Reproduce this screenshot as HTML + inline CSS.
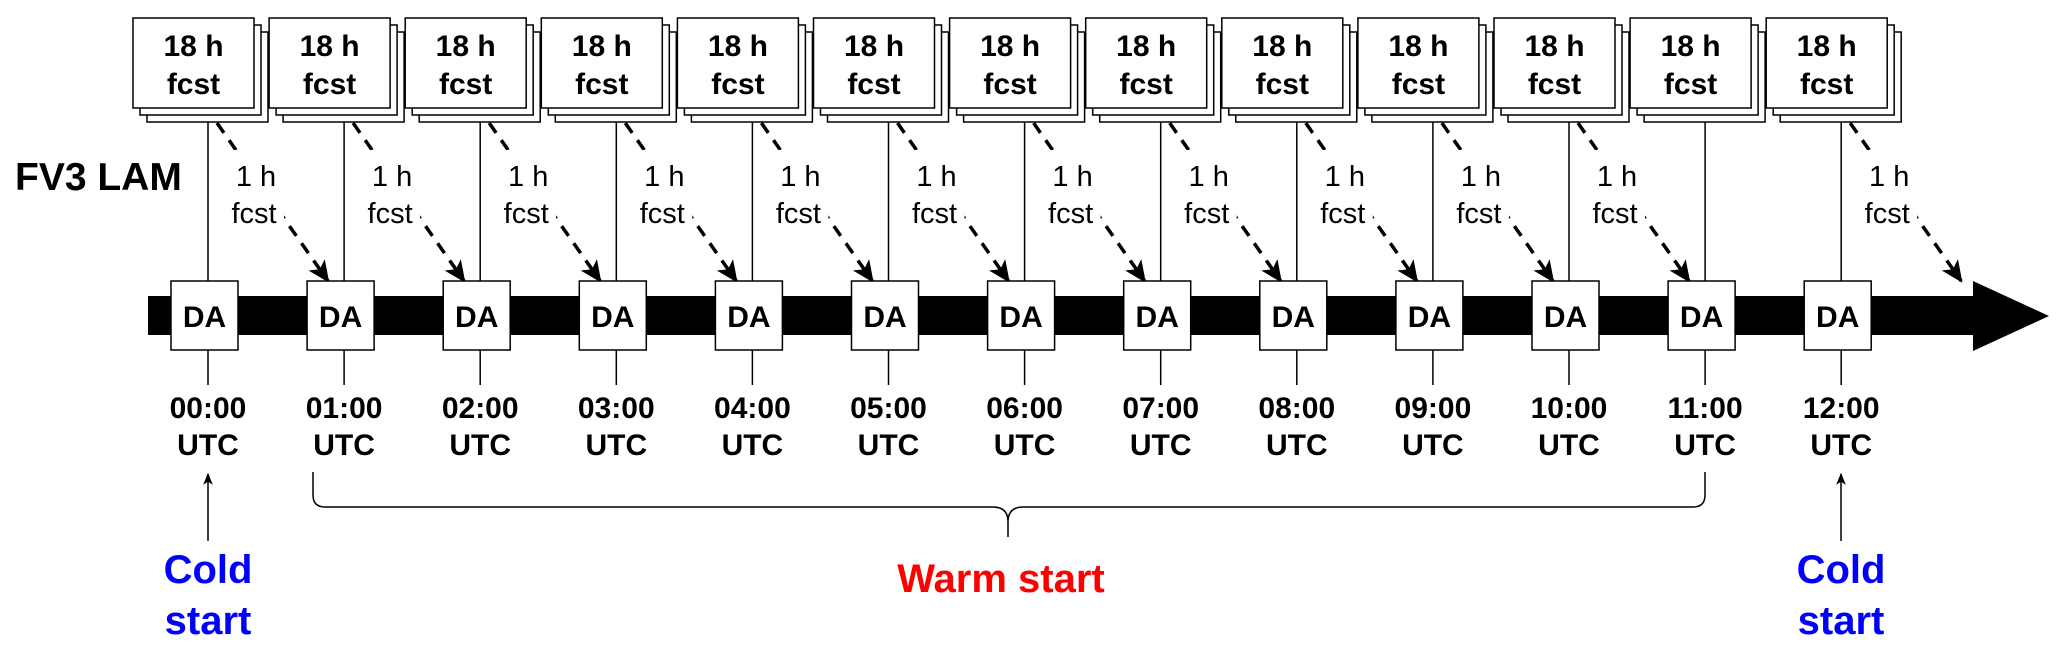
<!DOCTYPE html>
<html><head><meta charset="utf-8"><style>
html,body{margin:0;padding:0;background:#fff}
svg{display:block}
text{font-family:"Liberation Sans",Arial,sans-serif}
.b{font-weight:bold}
</style></head><body>
<svg width="2067" height="652" viewBox="0 0 2067 652" xmlns="http://www.w3.org/2000/svg">
<defs>
<marker id="ah" viewBox="0 0 20 20" refX="18" refY="10" markerWidth="22" markerHeight="22" markerUnits="userSpaceOnUse" orient="auto">
<path d="M0,1 L20,10 L0,19 L5,10 Z" fill="#000"/>
</marker>
<marker id="ah2" viewBox="0 0 20 20" refX="18" refY="10" markerWidth="12" markerHeight="12" markerUnits="userSpaceOnUse" orient="auto">
<path d="M0,2 L20,10 L0,18 L5,10 Z" fill="#000"/>
</marker>
</defs>
<rect x="148" y="296" width="1826" height="39" fill="#000"/>
<polygon points="1973,281 2049,316 1973,351" fill="#000"/>
<text x="15" y="190" class="b" font-size="39" fill="#000">FV3 LAM</text>

<g>
<line x1="208" y1="122" x2="208" y2="281" stroke="#000" stroke-width="1.5"/>
<rect x="147" y="32" width="121" height="90" fill="#fff" stroke="#000" stroke-width="1.5"/>
<rect x="140" y="25" width="121" height="90" fill="#fff" stroke="#000" stroke-width="1.5"/>
<rect x="133" y="18" width="121" height="90" fill="#fff" stroke="#000" stroke-width="1.5"/>
<text x="193.5" y="56" text-anchor="middle" class="b" font-size="30">18 h</text>
<text x="193.5" y="94" text-anchor="middle" class="b" font-size="30">fcst</text>
<rect x="171" y="281" width="67" height="69" fill="#fff" stroke="#000" stroke-width="1.5"/>
<text x="204.5" y="327" text-anchor="middle" class="b" font-size="30">DA</text>
<line x1="208" y1="350" x2="208" y2="385" stroke="#000" stroke-width="1.5"/>
<text x="208" y="418" text-anchor="middle" class="b" font-size="30">00:00</text>
<text x="208" y="455" text-anchor="middle" class="b" font-size="30">UTC</text>
<line x1="217" y1="123" x2="328" y2="281" stroke="#000" stroke-width="3.5" stroke-dasharray="12 9" marker-end="url(#ah)"/>
<rect x="228" y="150" width="56" height="80" fill="#fff"/>
<text x="256" y="186" text-anchor="middle" font-size="29">1 h</text>
<text x="254" y="223" text-anchor="middle" font-size="29">fcst</text>
</g>

<g transform="translate(136.1,0)"><line x1="208" y1="122" x2="208" y2="281" stroke="#000" stroke-width="1.5"/><rect x="147" y="32" width="121" height="90" fill="#fff" stroke="#000" stroke-width="1.5"/><rect x="140" y="25" width="121" height="90" fill="#fff" stroke="#000" stroke-width="1.5"/><rect x="133" y="18" width="121" height="90" fill="#fff" stroke="#000" stroke-width="1.5"/><text x="193.5" y="56" text-anchor="middle" class="b" font-size="30">18 h</text><text x="193.5" y="94" text-anchor="middle" class="b" font-size="30">fcst</text><rect x="171" y="281" width="67" height="69" fill="#fff" stroke="#000" stroke-width="1.5"/><text x="204.5" y="327" text-anchor="middle" class="b" font-size="30">DA</text><line x1="208" y1="350" x2="208" y2="385" stroke="#000" stroke-width="1.5"/><text x="208" y="418" text-anchor="middle" class="b" font-size="30">01:00</text><text x="208" y="455" text-anchor="middle" class="b" font-size="30">UTC</text><line x1="217" y1="123" x2="328" y2="281" stroke="#000" stroke-width="3.5" stroke-dasharray="12 9" marker-end="url(#ah)"/><rect x="228" y="150" width="56" height="80" fill="#fff"/><text x="256" y="186" text-anchor="middle" font-size="29">1 h</text><text x="254" y="223" text-anchor="middle" font-size="29">fcst</text></g>
<g transform="translate(272.2,0)"><line x1="208" y1="122" x2="208" y2="281" stroke="#000" stroke-width="1.5"/><rect x="147" y="32" width="121" height="90" fill="#fff" stroke="#000" stroke-width="1.5"/><rect x="140" y="25" width="121" height="90" fill="#fff" stroke="#000" stroke-width="1.5"/><rect x="133" y="18" width="121" height="90" fill="#fff" stroke="#000" stroke-width="1.5"/><text x="193.5" y="56" text-anchor="middle" class="b" font-size="30">18 h</text><text x="193.5" y="94" text-anchor="middle" class="b" font-size="30">fcst</text><rect x="171" y="281" width="67" height="69" fill="#fff" stroke="#000" stroke-width="1.5"/><text x="204.5" y="327" text-anchor="middle" class="b" font-size="30">DA</text><line x1="208" y1="350" x2="208" y2="385" stroke="#000" stroke-width="1.5"/><text x="208" y="418" text-anchor="middle" class="b" font-size="30">02:00</text><text x="208" y="455" text-anchor="middle" class="b" font-size="30">UTC</text><line x1="217" y1="123" x2="328" y2="281" stroke="#000" stroke-width="3.5" stroke-dasharray="12 9" marker-end="url(#ah)"/><rect x="228" y="150" width="56" height="80" fill="#fff"/><text x="256" y="186" text-anchor="middle" font-size="29">1 h</text><text x="254" y="223" text-anchor="middle" font-size="29">fcst</text></g>
<g transform="translate(408.3,0)"><line x1="208" y1="122" x2="208" y2="281" stroke="#000" stroke-width="1.5"/><rect x="147" y="32" width="121" height="90" fill="#fff" stroke="#000" stroke-width="1.5"/><rect x="140" y="25" width="121" height="90" fill="#fff" stroke="#000" stroke-width="1.5"/><rect x="133" y="18" width="121" height="90" fill="#fff" stroke="#000" stroke-width="1.5"/><text x="193.5" y="56" text-anchor="middle" class="b" font-size="30">18 h</text><text x="193.5" y="94" text-anchor="middle" class="b" font-size="30">fcst</text><rect x="171" y="281" width="67" height="69" fill="#fff" stroke="#000" stroke-width="1.5"/><text x="204.5" y="327" text-anchor="middle" class="b" font-size="30">DA</text><line x1="208" y1="350" x2="208" y2="385" stroke="#000" stroke-width="1.5"/><text x="208" y="418" text-anchor="middle" class="b" font-size="30">03:00</text><text x="208" y="455" text-anchor="middle" class="b" font-size="30">UTC</text><line x1="217" y1="123" x2="328" y2="281" stroke="#000" stroke-width="3.5" stroke-dasharray="12 9" marker-end="url(#ah)"/><rect x="228" y="150" width="56" height="80" fill="#fff"/><text x="256" y="186" text-anchor="middle" font-size="29">1 h</text><text x="254" y="223" text-anchor="middle" font-size="29">fcst</text></g>
<g transform="translate(544.4,0)"><line x1="208" y1="122" x2="208" y2="281" stroke="#000" stroke-width="1.5"/><rect x="147" y="32" width="121" height="90" fill="#fff" stroke="#000" stroke-width="1.5"/><rect x="140" y="25" width="121" height="90" fill="#fff" stroke="#000" stroke-width="1.5"/><rect x="133" y="18" width="121" height="90" fill="#fff" stroke="#000" stroke-width="1.5"/><text x="193.5" y="56" text-anchor="middle" class="b" font-size="30">18 h</text><text x="193.5" y="94" text-anchor="middle" class="b" font-size="30">fcst</text><rect x="171" y="281" width="67" height="69" fill="#fff" stroke="#000" stroke-width="1.5"/><text x="204.5" y="327" text-anchor="middle" class="b" font-size="30">DA</text><line x1="208" y1="350" x2="208" y2="385" stroke="#000" stroke-width="1.5"/><text x="208" y="418" text-anchor="middle" class="b" font-size="30">04:00</text><text x="208" y="455" text-anchor="middle" class="b" font-size="30">UTC</text><line x1="217" y1="123" x2="328" y2="281" stroke="#000" stroke-width="3.5" stroke-dasharray="12 9" marker-end="url(#ah)"/><rect x="228" y="150" width="56" height="80" fill="#fff"/><text x="256" y="186" text-anchor="middle" font-size="29">1 h</text><text x="254" y="223" text-anchor="middle" font-size="29">fcst</text></g>
<g transform="translate(680.5,0)"><line x1="208" y1="122" x2="208" y2="281" stroke="#000" stroke-width="1.5"/><rect x="147" y="32" width="121" height="90" fill="#fff" stroke="#000" stroke-width="1.5"/><rect x="140" y="25" width="121" height="90" fill="#fff" stroke="#000" stroke-width="1.5"/><rect x="133" y="18" width="121" height="90" fill="#fff" stroke="#000" stroke-width="1.5"/><text x="193.5" y="56" text-anchor="middle" class="b" font-size="30">18 h</text><text x="193.5" y="94" text-anchor="middle" class="b" font-size="30">fcst</text><rect x="171" y="281" width="67" height="69" fill="#fff" stroke="#000" stroke-width="1.5"/><text x="204.5" y="327" text-anchor="middle" class="b" font-size="30">DA</text><line x1="208" y1="350" x2="208" y2="385" stroke="#000" stroke-width="1.5"/><text x="208" y="418" text-anchor="middle" class="b" font-size="30">05:00</text><text x="208" y="455" text-anchor="middle" class="b" font-size="30">UTC</text><line x1="217" y1="123" x2="328" y2="281" stroke="#000" stroke-width="3.5" stroke-dasharray="12 9" marker-end="url(#ah)"/><rect x="228" y="150" width="56" height="80" fill="#fff"/><text x="256" y="186" text-anchor="middle" font-size="29">1 h</text><text x="254" y="223" text-anchor="middle" font-size="29">fcst</text></g>
<g transform="translate(816.6,0)"><line x1="208" y1="122" x2="208" y2="281" stroke="#000" stroke-width="1.5"/><rect x="147" y="32" width="121" height="90" fill="#fff" stroke="#000" stroke-width="1.5"/><rect x="140" y="25" width="121" height="90" fill="#fff" stroke="#000" stroke-width="1.5"/><rect x="133" y="18" width="121" height="90" fill="#fff" stroke="#000" stroke-width="1.5"/><text x="193.5" y="56" text-anchor="middle" class="b" font-size="30">18 h</text><text x="193.5" y="94" text-anchor="middle" class="b" font-size="30">fcst</text><rect x="171" y="281" width="67" height="69" fill="#fff" stroke="#000" stroke-width="1.5"/><text x="204.5" y="327" text-anchor="middle" class="b" font-size="30">DA</text><line x1="208" y1="350" x2="208" y2="385" stroke="#000" stroke-width="1.5"/><text x="208" y="418" text-anchor="middle" class="b" font-size="30">06:00</text><text x="208" y="455" text-anchor="middle" class="b" font-size="30">UTC</text><line x1="217" y1="123" x2="328" y2="281" stroke="#000" stroke-width="3.5" stroke-dasharray="12 9" marker-end="url(#ah)"/><rect x="228" y="150" width="56" height="80" fill="#fff"/><text x="256" y="186" text-anchor="middle" font-size="29">1 h</text><text x="254" y="223" text-anchor="middle" font-size="29">fcst</text></g>
<g transform="translate(952.7,0)"><line x1="208" y1="122" x2="208" y2="281" stroke="#000" stroke-width="1.5"/><rect x="147" y="32" width="121" height="90" fill="#fff" stroke="#000" stroke-width="1.5"/><rect x="140" y="25" width="121" height="90" fill="#fff" stroke="#000" stroke-width="1.5"/><rect x="133" y="18" width="121" height="90" fill="#fff" stroke="#000" stroke-width="1.5"/><text x="193.5" y="56" text-anchor="middle" class="b" font-size="30">18 h</text><text x="193.5" y="94" text-anchor="middle" class="b" font-size="30">fcst</text><rect x="171" y="281" width="67" height="69" fill="#fff" stroke="#000" stroke-width="1.5"/><text x="204.5" y="327" text-anchor="middle" class="b" font-size="30">DA</text><line x1="208" y1="350" x2="208" y2="385" stroke="#000" stroke-width="1.5"/><text x="208" y="418" text-anchor="middle" class="b" font-size="30">07:00</text><text x="208" y="455" text-anchor="middle" class="b" font-size="30">UTC</text><line x1="217" y1="123" x2="328" y2="281" stroke="#000" stroke-width="3.5" stroke-dasharray="12 9" marker-end="url(#ah)"/><rect x="228" y="150" width="56" height="80" fill="#fff"/><text x="256" y="186" text-anchor="middle" font-size="29">1 h</text><text x="254" y="223" text-anchor="middle" font-size="29">fcst</text></g>
<g transform="translate(1088.8,0)"><line x1="208" y1="122" x2="208" y2="281" stroke="#000" stroke-width="1.5"/><rect x="147" y="32" width="121" height="90" fill="#fff" stroke="#000" stroke-width="1.5"/><rect x="140" y="25" width="121" height="90" fill="#fff" stroke="#000" stroke-width="1.5"/><rect x="133" y="18" width="121" height="90" fill="#fff" stroke="#000" stroke-width="1.5"/><text x="193.5" y="56" text-anchor="middle" class="b" font-size="30">18 h</text><text x="193.5" y="94" text-anchor="middle" class="b" font-size="30">fcst</text><rect x="171" y="281" width="67" height="69" fill="#fff" stroke="#000" stroke-width="1.5"/><text x="204.5" y="327" text-anchor="middle" class="b" font-size="30">DA</text><line x1="208" y1="350" x2="208" y2="385" stroke="#000" stroke-width="1.5"/><text x="208" y="418" text-anchor="middle" class="b" font-size="30">08:00</text><text x="208" y="455" text-anchor="middle" class="b" font-size="30">UTC</text><line x1="217" y1="123" x2="328" y2="281" stroke="#000" stroke-width="3.5" stroke-dasharray="12 9" marker-end="url(#ah)"/><rect x="228" y="150" width="56" height="80" fill="#fff"/><text x="256" y="186" text-anchor="middle" font-size="29">1 h</text><text x="254" y="223" text-anchor="middle" font-size="29">fcst</text></g>
<g transform="translate(1224.9,0)"><line x1="208" y1="122" x2="208" y2="281" stroke="#000" stroke-width="1.5"/><rect x="147" y="32" width="121" height="90" fill="#fff" stroke="#000" stroke-width="1.5"/><rect x="140" y="25" width="121" height="90" fill="#fff" stroke="#000" stroke-width="1.5"/><rect x="133" y="18" width="121" height="90" fill="#fff" stroke="#000" stroke-width="1.5"/><text x="193.5" y="56" text-anchor="middle" class="b" font-size="30">18 h</text><text x="193.5" y="94" text-anchor="middle" class="b" font-size="30">fcst</text><rect x="171" y="281" width="67" height="69" fill="#fff" stroke="#000" stroke-width="1.5"/><text x="204.5" y="327" text-anchor="middle" class="b" font-size="30">DA</text><line x1="208" y1="350" x2="208" y2="385" stroke="#000" stroke-width="1.5"/><text x="208" y="418" text-anchor="middle" class="b" font-size="30">09:00</text><text x="208" y="455" text-anchor="middle" class="b" font-size="30">UTC</text><line x1="217" y1="123" x2="328" y2="281" stroke="#000" stroke-width="3.5" stroke-dasharray="12 9" marker-end="url(#ah)"/><rect x="228" y="150" width="56" height="80" fill="#fff"/><text x="256" y="186" text-anchor="middle" font-size="29">1 h</text><text x="254" y="223" text-anchor="middle" font-size="29">fcst</text></g>
<g transform="translate(1361,0)"><line x1="208" y1="122" x2="208" y2="281" stroke="#000" stroke-width="1.5"/><rect x="147" y="32" width="121" height="90" fill="#fff" stroke="#000" stroke-width="1.5"/><rect x="140" y="25" width="121" height="90" fill="#fff" stroke="#000" stroke-width="1.5"/><rect x="133" y="18" width="121" height="90" fill="#fff" stroke="#000" stroke-width="1.5"/><text x="193.5" y="56" text-anchor="middle" class="b" font-size="30">18 h</text><text x="193.5" y="94" text-anchor="middle" class="b" font-size="30">fcst</text><rect x="171" y="281" width="67" height="69" fill="#fff" stroke="#000" stroke-width="1.5"/><text x="204.5" y="327" text-anchor="middle" class="b" font-size="30">DA</text><line x1="208" y1="350" x2="208" y2="385" stroke="#000" stroke-width="1.5"/><text x="208" y="418" text-anchor="middle" class="b" font-size="30">10:00</text><text x="208" y="455" text-anchor="middle" class="b" font-size="30">UTC</text><line x1="217" y1="123" x2="328" y2="281" stroke="#000" stroke-width="3.5" stroke-dasharray="12 9" marker-end="url(#ah)"/><rect x="228" y="150" width="56" height="80" fill="#fff"/><text x="256" y="186" text-anchor="middle" font-size="29">1 h</text><text x="254" y="223" text-anchor="middle" font-size="29">fcst</text></g>
<g transform="translate(1497.1,0)"><line x1="208" y1="122" x2="208" y2="281" stroke="#000" stroke-width="1.5"/><rect x="147" y="32" width="121" height="90" fill="#fff" stroke="#000" stroke-width="1.5"/><rect x="140" y="25" width="121" height="90" fill="#fff" stroke="#000" stroke-width="1.5"/><rect x="133" y="18" width="121" height="90" fill="#fff" stroke="#000" stroke-width="1.5"/><text x="193.5" y="56" text-anchor="middle" class="b" font-size="30">18 h</text><text x="193.5" y="94" text-anchor="middle" class="b" font-size="30">fcst</text><rect x="171" y="281" width="67" height="69" fill="#fff" stroke="#000" stroke-width="1.5"/><text x="204.5" y="327" text-anchor="middle" class="b" font-size="30">DA</text><line x1="208" y1="350" x2="208" y2="385" stroke="#000" stroke-width="1.5"/><text x="208" y="418" text-anchor="middle" class="b" font-size="30">11:00</text><text x="208" y="455" text-anchor="middle" class="b" font-size="30">UTC</text></g>
<g transform="translate(1633.2,0)"><line x1="208" y1="122" x2="208" y2="281" stroke="#000" stroke-width="1.5"/><rect x="147" y="32" width="121" height="90" fill="#fff" stroke="#000" stroke-width="1.5"/><rect x="140" y="25" width="121" height="90" fill="#fff" stroke="#000" stroke-width="1.5"/><rect x="133" y="18" width="121" height="90" fill="#fff" stroke="#000" stroke-width="1.5"/><text x="193.5" y="56" text-anchor="middle" class="b" font-size="30">18 h</text><text x="193.5" y="94" text-anchor="middle" class="b" font-size="30">fcst</text><rect x="171" y="281" width="67" height="69" fill="#fff" stroke="#000" stroke-width="1.5"/><text x="204.5" y="327" text-anchor="middle" class="b" font-size="30">DA</text><line x1="208" y1="350" x2="208" y2="385" stroke="#000" stroke-width="1.5"/><text x="208" y="418" text-anchor="middle" class="b" font-size="30">12:00</text><text x="208" y="455" text-anchor="middle" class="b" font-size="30">UTC</text><line x1="217" y1="123" x2="328" y2="281" stroke="#000" stroke-width="3.5" stroke-dasharray="12 9" marker-end="url(#ah)"/><rect x="228" y="150" width="56" height="80" fill="#fff"/><text x="256" y="186" text-anchor="middle" font-size="29">1 h</text><text x="254" y="223" text-anchor="middle" font-size="29">fcst</text></g>

<path d="M313,472 L313,495 Q313,507 325,507 L993,507 Q1008,507 1008,522 L1008,537 M1008,522 Q1008,507 1023,507 L1693,507 Q1705,507 1705,495 L1705,472" fill="none" stroke="#000" stroke-width="1.5"/>

<line x1="208" y1="541" x2="208" y2="474" stroke="#000" stroke-width="1.5" marker-end="url(#ah2)"/>
<line x1="1841" y1="541" x2="1841" y2="474" stroke="#000" stroke-width="1.5" marker-end="url(#ah2)"/>

<text x="208" y="583" text-anchor="middle" class="b" font-size="40" fill="#0000ff">Cold</text>
<text x="208" y="634" text-anchor="middle" class="b" font-size="40" fill="#0000ff">start</text>
<text x="1841" y="583" text-anchor="middle" class="b" font-size="40" fill="#0000ff">Cold</text>
<text x="1841" y="634" text-anchor="middle" class="b" font-size="40" fill="#0000ff">start</text>
<text x="1001" y="592" text-anchor="middle" class="b" font-size="40" fill="#ff0000">Warm start</text>
</svg>
</body></html>
